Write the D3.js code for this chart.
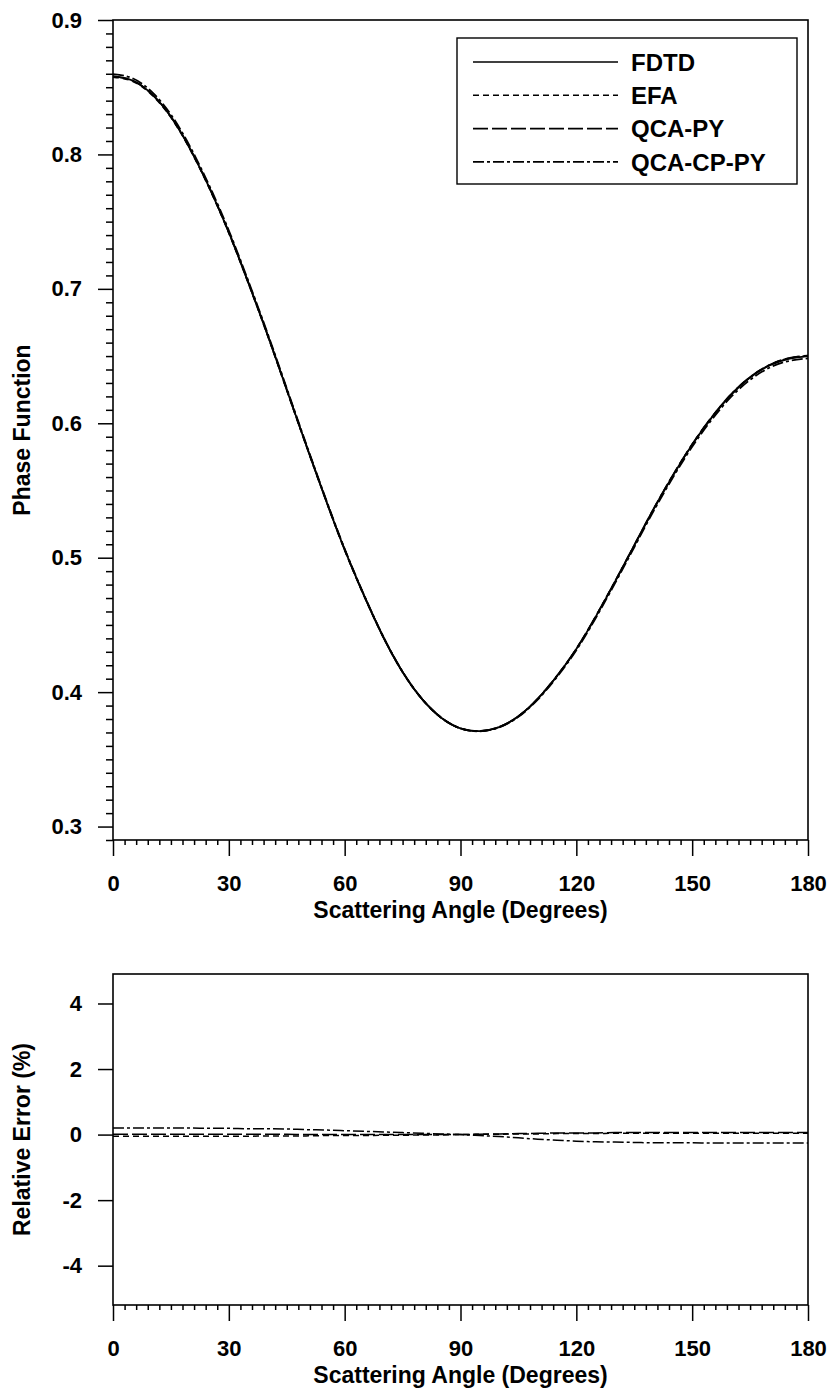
<!DOCTYPE html>
<html>
<head>
<meta charset="utf-8">
<script src="https://cdn.jsdelivr.net/npm/d3@7"></script>
<style>
  html, body { margin: 0; padding: 0; background: #fff; }
  svg { display: block; }
  text { font-family: "Liberation Sans", Arial, sans-serif; font-weight: bold; fill: #000; }
</style>
</head>
<body>
<svg id="chart" width="833" height="1393"></svg>
<script>
// Scattering angle grid (degrees)
const angles = [0, 5, 10, 15, 20, 25, 30, 35, 40, 45, 50, 55, 60, 65, 70, 75, 80, 85, 90,
                95, 100, 105, 110, 115, 120, 125, 130, 135, 140, 145, 150, 155, 160, 165, 170, 175, 180];

// FDTD phase function
const fdtd = [0.858, 0.855, 0.845, 0.828, 0.804, 0.775, 0.742, 0.705, 0.666, 0.625, 0.584, 0.544, 0.506,
              0.472, 0.441, 0.415, 0.395, 0.381, 0.373, 0.371, 0.374, 0.382, 0.395, 0.412, 0.432, 0.456,
              0.482, 0.509, 0.536, 0.561, 0.584, 0.604, 0.621, 0.634, 0.643, 0.648, 0.650];

// Relative error of each model against FDTD (%)
const errEFA = [-0.05, -0.05, -0.05, -0.05, -0.05, -0.05, -0.05, -0.05, -0.04, -0.04, -0.04, -0.03, -0.03,
                -0.03, -0.02, -0.02, -0.01, -0.01, 0.00, 0.01, 0.01, 0.02, 0.02, 0.03, 0.03, 0.03,
                0.04, 0.04, 0.04, 0.04, 0.04, 0.04, 0.04, 0.04, 0.04, 0.04, 0.04];
const errQCAPY = [0.01, 0.01, 0.01, 0.01, 0.01, 0.01, 0.01, 0.01, 0.01, 0.01, 0.00, 0.00, 0.00,
                  0.00, 0.00, 0.00, 0.00, 0.00, 0.00, 0.01, 0.02, 0.03, 0.04, 0.05, 0.05, 0.05,
                  0.06, 0.06, 0.06, 0.06, 0.06, 0.06, 0.06, 0.06, 0.06, 0.06, 0.06];
const errQCACPPY = [0.20, 0.20, 0.20, 0.20, 0.20, 0.19, 0.19, 0.18, 0.18, 0.17, 0.15, 0.14, 0.12,
                    0.10, 0.08, 0.06, 0.04, 0.02, 0.00, -0.03, -0.06, -0.10, -0.14, -0.17, -0.20, -0.22,
                    -0.23, -0.24, -0.25, -0.25, -0.25, -0.26, -0.26, -0.26, -0.26, -0.26, -0.26];

const seriesNames = ["FDTD", "EFA", "QCA-PY", "QCA-CP-PY"];
const seriesDash = [null, "6,4", "15,4", "11,3,3,3"];

const xTicks = [0, 30, 60, 90, 120, 150, 180];
const phaseTicks = [0.3, 0.4, 0.5, 0.6, 0.7, 0.8, 0.9];
const errTicks = [-4, -2, 0, 2, 4];

// ---------------------------------------------------------------
const svg = d3.select("#chart");
const FONT_TICK = 22, FONT_TITLE = 23, FONT_LEGEND = 24;

const plotL = 113, plotR = 808;
const upper = { t: 20, b: 840 };
const lower = { t: 974, b: 1305 };

const x = d3.scaleLinear().domain([0, 180]).range([plotL, plotR]);
const yP = d3.scaleLinear().domain([0.29, 0.9]).range([upper.b, upper.t]);
const yE = d3.scaleLinear().domain([-5.2, 4.9]).range([lower.b, lower.t]);

// model curves follow from FDTD and their relative error
const phaseEFA = fdtd.map((v, i) => v * (1 + errEFA[i] / 100));
const phaseQCAPY = fdtd.map((v, i) => v * (1 + errQCAPY[i] / 100));
const phaseQCACPPY = fdtd.map((v, i) => v * (1 + errQCACPPY[i] / 100));

function styleAxis(g) {
  g.select(".domain").remove();
  g.selectAll(".tick line").attr("stroke", "#000").attr("stroke-width", 1.5);
  g.selectAll(".tick text").style("font-size", FONT_TICK + "px").attr("fill", "#000");
}

function xAxes(yBottom) {
  const minor = d3.range(0, 181, 3).filter(d => d % 30 !== 0);
  svg.append("g").attr("transform", `translate(0,${yBottom})`)
    .call(d3.axisBottom(x).tickValues(minor).tickSize(5).tickFormat(""))
    .call(styleAxis);
  svg.append("g").attr("transform", `translate(0,${yBottom})`)
    .call(d3.axisBottom(x).tickValues(xTicks).tickSize(16).tickPadding(19).tickFormat(d3.format("d")))
    .call(styleAxis);
  svg.append("text")
    .attr("x", (plotL + plotR) / 2).attr("y", yBottom + 78)
    .attr("text-anchor", "middle")
    .style("font-size", FONT_TITLE + "px")
    .text("Scattering Angle (Degrees)");
}

function frame(t, b) {
  svg.append("rect")
    .attr("x", plotL).attr("y", t)
    .attr("width", plotR - plotL).attr("height", b - t)
    .attr("fill", "none").attr("stroke", "#000").attr("stroke-width", 1.6);
}

// ---------- upper panel: phase function ----------
const minorP = d3.range(29, 91).map(d => d / 100).filter(d => Math.round(d * 100) % 10 !== 0);
svg.append("g").attr("transform", `translate(${plotL},0)`)
  .call(d3.axisLeft(yP).tickValues(minorP).tickSize(7).tickFormat(""))
  .call(styleAxis);
svg.append("g").attr("transform", `translate(${plotL},0)`)
  .call(d3.axisLeft(yP).tickValues(phaseTicks).tickSize(15).tickPadding(16).tickFormat(d3.format(".1f")))
  .call(styleAxis);
xAxes(upper.b);

svg.append("text")
  .attr("transform", `translate(30,${(upper.t + upper.b) / 2}) rotate(-90)`)
  .attr("text-anchor", "middle")
  .style("font-size", FONT_TITLE + "px")
  .text("Phase Function");

const lineP = d3.line().x((d, i) => x(angles[i])).y(d => yP(d)).curve(d3.curveNatural);
const phaseSeries = [fdtd, phaseEFA, phaseQCAPY, phaseQCACPPY];
phaseSeries.forEach((s, k) => {
  svg.append("path").datum(s)
    .attr("d", lineP)
    .attr("fill", "none").attr("stroke", "#000")
    .attr("stroke-width", 1.8)
    .attr("stroke-dasharray", seriesDash[k]);
});
frame(upper.t, upper.b);

// legend
const leg = { l: 457, r: 797, t: 38, b: 184 };
svg.append("rect")
  .attr("x", leg.l).attr("y", leg.t)
  .attr("width", leg.r - leg.l).attr("height", leg.b - leg.t)
  .attr("fill", "#fff").attr("stroke", "#000").attr("stroke-width", 1.4);
seriesNames.forEach((name, k) => {
  const yy = 62 + k * 33.3;
  svg.append("line")
    .attr("x1", 473).attr("x2", 618).attr("y1", yy).attr("y2", yy)
    .attr("stroke", "#000").attr("stroke-width", 1.6)
    .attr("stroke-dasharray", seriesDash[k]);
  svg.append("text")
    .attr("x", 631).attr("y", yy).attr("dy", "0.36em")
    .style("font-size", FONT_LEGEND + "px")
    .text(name);
});

// ---------- lower panel: relative error ----------
svg.append("g").attr("transform", `translate(${plotL},0)`)
  .call(d3.axisLeft(yE).tickValues(errTicks).tickSize(15).tickPadding(16).tickFormat(d => String(d)))
  .call(styleAxis);
xAxes(lower.b);

svg.append("text")
  .attr("transform", `translate(30,${(lower.t + lower.b) / 2}) rotate(-90)`)
  .attr("text-anchor", "middle")
  .style("font-size", FONT_TITLE + "px")
  .text("Relative Error (%)");

const lineE = d3.line().x((d, i) => x(angles[i])).y(d => yE(d)).curve(d3.curveMonotoneX);
[errEFA, errQCAPY, errQCACPPY].forEach((s, k) => {
  svg.append("path").datum(s)
    .attr("d", lineE)
    .attr("fill", "none").attr("stroke", "#000")
    .attr("stroke-width", 1.5)
    .attr("stroke-dasharray", seriesDash[k + 1]);
});
frame(lower.t, lower.b);
</script>
</body>
</html>
